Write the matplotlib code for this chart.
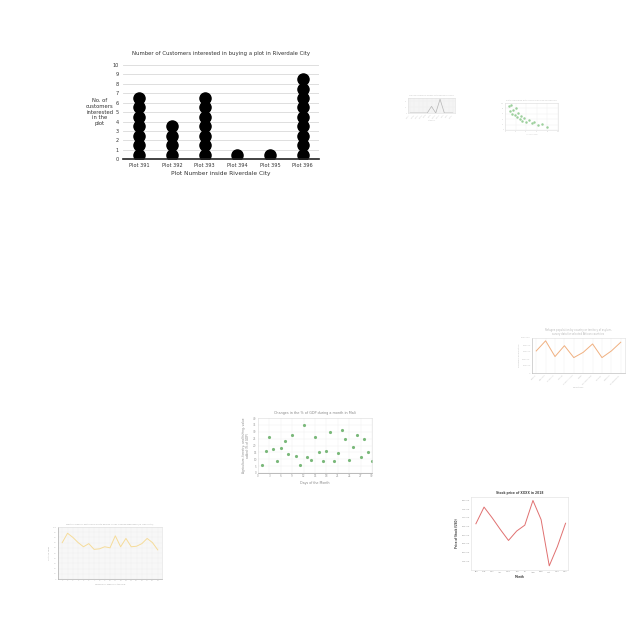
import numpy as np
import matplotlib
matplotlib.use("Agg")
import matplotlib.pyplot as plt

# main dot plot
plots = ["Plot 391", "Plot 392", "Plot 393", "Plot 394", "Plot 395", "Plot 396"]
customers = [7, 4, 7, 1, 1, 9]

# small chart: line with two peaks
t1_cats = ["Cat A", "Cat B", "Cat C", "Cat D", "Cat E", "Cat F", "Cat G", "Cat H", "Cat I", "Cat J", "Cat K"]
t1_vals = [0, 0, 0, 0, 0, 11, 0, 23, 0, 0, 0]

# small chart: green scatter
t2_x = [8, 10, 12, 14, 16, 18, 20, 22, 25, 28, 30, 33, 36, 40, 45, 50, 55, 62, 70, 80]
t2_y = [88, 70, 92, 60, 75, 55, 80, 48, 62, 40, 52, 35, 45, 30, 38, 25, 30, 18, 22, 12]

# small chart: orange line by country
t3_cats = ["Kenya", "Uganda", "Tanzania", "Ghana", "South Africa", "Niger", "Mozambique", "Malawi", "Zambia", "Madagascar"]
t3_vals = [630000, 920000, 470000, 780000, 440000, 590000, 830000, 440000, 630000, 880000]

# Mali scatter
days = list(range(1, 31))
gdp_pct = [5.6, 16, 26.5, 17.4, 8.8, 18.4, 23.6, 13.5, 27.7, 12.5,
           5.6, 34.6, 11.3, 9.3, 26.3, 15.5, 9, 15.7, 30, 8.8,
           14.2, 31.4, 24.8, 9.3, 18.9, 27.7, 12, 24.8, 15.5, 8.8]

# stock price
months = ["Jan", "Feb", "Mar", "Apr", "May", "Jun", "Jul", "Aug", "Sep", "Oct", "Nov", "Dec"]
price = [166.6, 176.2, 170, 163.3, 157, 162.4, 165.8, 180, 169, 142.4, 153.5, 166.9]

# yellow line
t6_x = list(range(1, 20))
t6_vals = [70, 88, 80, 70, 62, 68, 57, 58, 62, 60, 83, 62, 78, 62, 63, 68, 78, 70, 56]

W = 640.0


def ax_at(x0, y0, x1, y1):
    # pixel box (top-left origin) -> axes
    return fig.add_axes([x0 / W, 1 - y1 / W, (x1 - x0) / W, (y1 - y0) / W])


def faint(ax, fs=1.6, grid=True):
    for s in ax.spines.values():
        s.set_color("#dddddd")
        s.set_linewidth(0.4)
    ax.tick_params(labelsize=fs, colors="#c8c8c8", length=0, pad=1)
    if grid:
        ax.grid(color="#eeeeee", lw=0.3)
        ax.set_axisbelow(True)


fig = plt.figure(figsize=(6.4, 6.4), dpi=100)
fig.patch.set_facecolor("white")

# ---- main chart
ax = ax_at(123, 65, 319, 159.3)
xpos = np.arange(len(plots))
for i, n in enumerate(customers):
    ys = np.arange(n) + 0.5
    ax.plot([xpos[i]] * n, ys, "o", color="black", ms=8, mec="black")
ax.set_xlim(-0.5, len(plots) - 0.5)
ax.set_ylim(0, 10)
ax.set_yticks(range(0, 11))
ax.set_xticks(xpos)
ax.set_xticklabels(plots)
ax.tick_params(labelsize=3.6, length=0, colors="#333333", pad=3)
ax.grid(axis="y", color="#d9d9d9", lw=0.6)
ax.set_axisbelow(True)
for s in ["left", "top", "right"]:
    ax.spines[s].set_visible(False)
ax.spines["bottom"].set_color("#222222")
ax.spines["bottom"].set_linewidth(1.2)
ax.set_title("Number of Customers interested in buying a plot in Riverdale City",
             fontsize=3.9, color="#333333", pad=7)
ax.set_xlabel("Plot Number inside Riverdale City", fontsize=4.2, color="#333333", labelpad=2)
ax.set_ylabel("No. of\ncustomers\ninterested\nin the\nplot", fontsize=3.8, color="#333333",
              rotation=0, ha="center", va="center", labelpad=9)

# ---- thumbnail 1
a1 = ax_at(408, 98, 455, 113)
a1.set_facecolor("#f4f4f4")
a1.plot(range(len(t1_cats)), t1_vals, color="#b5b5b5", lw=0.5)
a1.set_ylim(0, 25)
a1.set_xticks(range(len(t1_cats)))
a1.set_xticklabels(t1_cats, rotation=50, ha="right")
faint(a1, 1.2)
a1.set_title("Values recorded across categories in 2019", fontsize=1.5, color="#c0c0c0", pad=1.5)
a1.set_xlabel("Category", fontsize=1.3, color="#c8c8c8", labelpad=1)

# ---- thumbnail 2
a2 = ax_at(505, 103, 558, 130)
a2.scatter(t2_x, t2_y, s=0.6, color="#9ccf9c")
a2.set_xlim(0, 100)
a2.set_ylim(0, 100)
faint(a2, 1.2)
a2.set_title("Rate compared with income level of households", fontsize=1.5, color="#c0c0c0", pad=1.5)
a2.set_xlabel("Income level", fontsize=1.3, color="#c8c8c8", labelpad=1)

# ---- thumbnail 3
a3 = ax_at(532, 338, 625, 373)
a3.plot(range(len(t3_cats)), t3_vals, color="#f0b080", lw=0.7)
a3.set_ylim(0, 1000000)
a3.set_xticks(range(len(t3_cats)))
a3.set_xticklabels(t3_cats, rotation=45, ha="right")
a3.yaxis.set_major_formatter(matplotlib.ticker.FuncFormatter(lambda v, p: f"{int(v)}"))
faint(a3, 1.6)
a3.grid(axis="y", visible=False)
a3.spines["left"].set_color("#b0b0b0")
a3.spines["bottom"].set_color("#b0b0b0")
a3.set_title("Refugee population by country or territory of asylum,\nsurvey data for selected African countries",
             fontsize=1.8, color="#b8b8b8", pad=2)
a3.set_xlabel("Countries", fontsize=1.7, color="#c0c0c0", labelpad=1)
a3.set_ylabel("Refugee population", fontsize=1.7, color="#c0c0c0", labelpad=1)

# ---- Mali scatter
a4 = ax_at(258, 418, 372, 473)
a4.scatter(days, gdp_pct, s=1.6, color="#7ab87a")
a4.set_xlim(0, 30)
a4.set_ylim(0, 40)
a4.set_xticks(range(0, 31, 3))
a4.set_yticks(range(0, 41, 5))
faint(a4, 2.0)
a4.tick_params(colors="#999999")
a4.spines["bottom"].set_color("#888888")
a4.set_title("Changes in the % of GDP during a month in Mali", fontsize=2.4, color="#888888", pad=3)
a4.set_xlabel("Days of the Month", fontsize=2.3, color="#888888", labelpad=2)
a4.set_ylabel("Agriculture, forestry, and fishing, value\nadded (% of GDP)", fontsize=2.1,
              color="#888888", labelpad=2)

# ---- stock price
a5 = ax_at(471, 497, 568, 570)
a5.plot(range(len(months)), price, color="#e07070", lw=0.7)
a5.set_xticks(range(len(months)))
a5.set_xticklabels(months)
a5.set_ylim(140, 182)
a5.set_yticks(range(145, 181, 5))
a5.yaxis.set_major_formatter(matplotlib.ticker.FormatStrFormatter("%.2f"))
a5.set_xlim(-0.6, 11.3)
faint(a5, 1.7, grid=False)
a5.tick_params(colors="#999999")
a5.set_title("Stock price of XXXX in 2018", fontsize=2.2, fontweight="bold", color="#444444", pad=2)
a5.set_xlabel("Month", fontsize=2.0, fontweight="bold", color="#444444", labelpad=2)
a5.set_ylabel("Price of Stock (USD)", fontsize=1.9, fontweight="bold", color="#444444", labelpad=2)

# ---- yellow line
a6 = ax_at(58, 527, 162, 579)
a6.set_facecolor("#f7f7f7")
a6.plot(t6_x, t6_vals, color="#f5dc9a", lw=0.7)
a6.set_xlim(0.2, 19.8)
a6.set_ylim(0, 100)
a6.set_xticks(t6_x)
a6.set_yticks(range(0, 101, 10))
faint(a6, 1.5)
a6.spines["left"].set_color("#999999")
a6.spines["bottom"].set_color("#999999")
a6.set_title("Monthly sales of fertilizer in South Region in 2017 during weekdays (in '000 units)",
             fontsize=1.5, color="#aaaaaa", pad=2)
a6.set_xlabel("Number of Weeks of the Year", fontsize=1.5, color="#aaaaaa", labelpad=1.5)
a6.set_ylabel("Units of sales", fontsize=1.5, color="#aaaaaa", labelpad=1.5)

fig.savefig("out.png", dpi=100)
